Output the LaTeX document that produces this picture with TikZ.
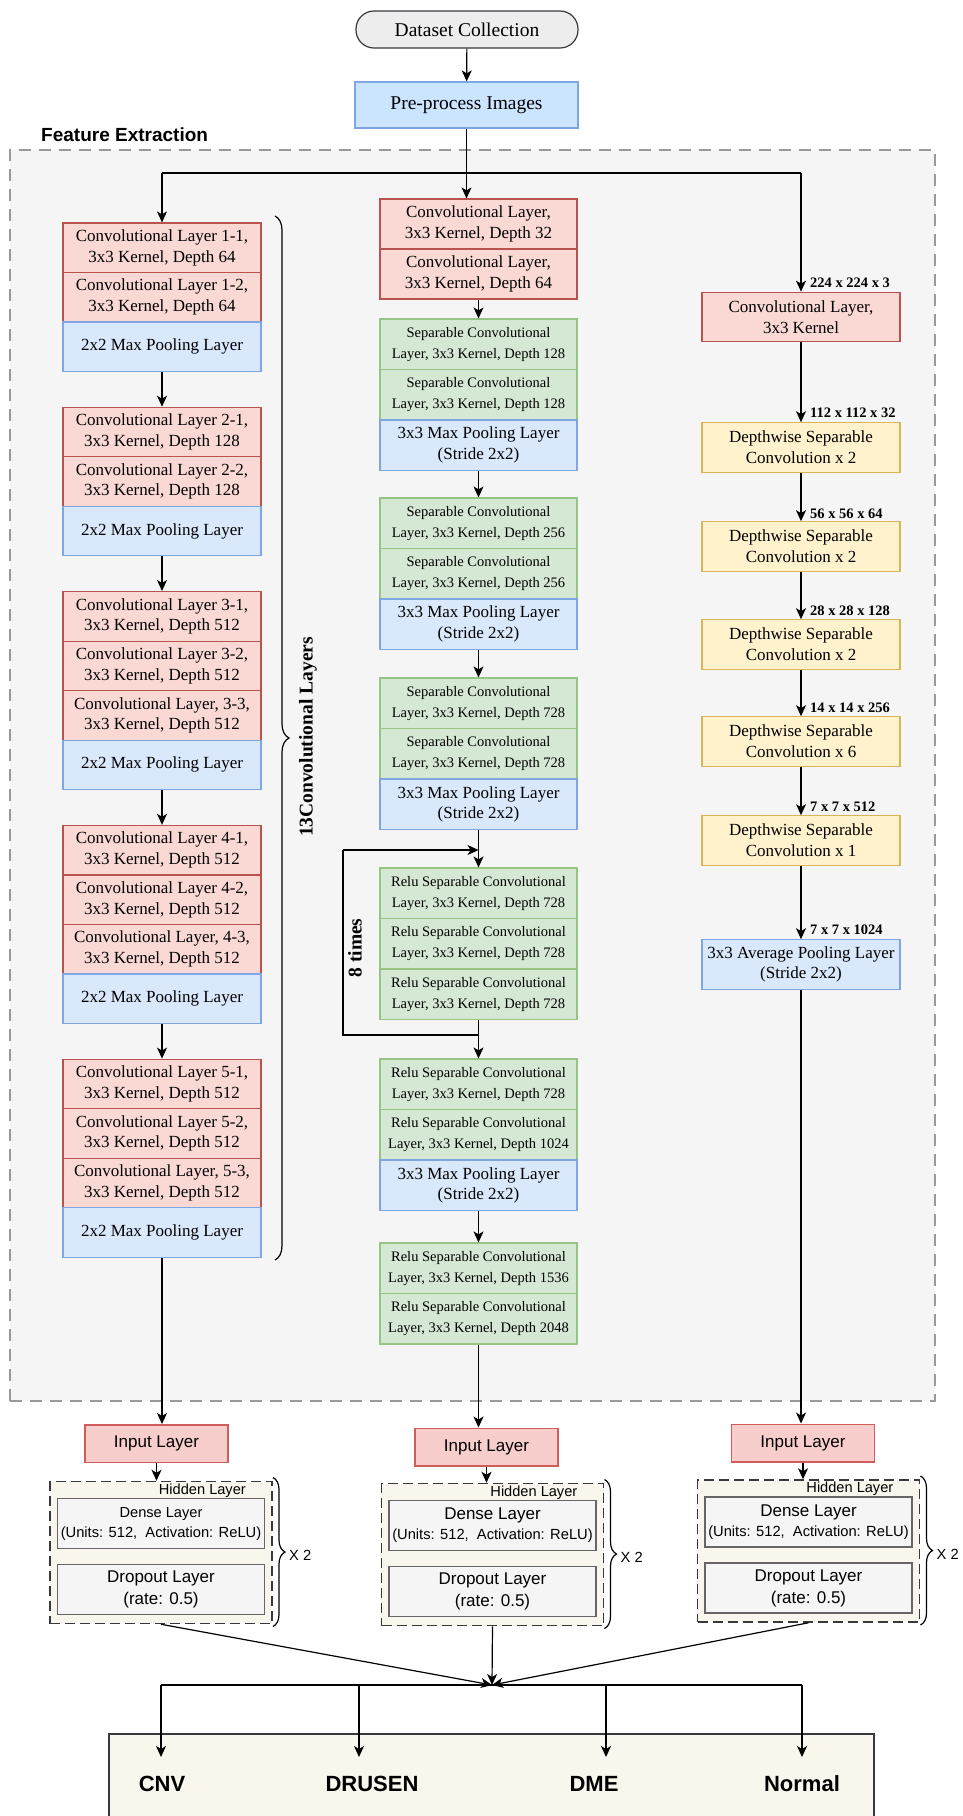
\documentclass[tikz,border=0pt]{standalone}
\usepackage{fontspec}
\setmainfont{Liberation Serif}
\setsansfont{Liberation Sans}
\usepackage{xcolor}
\usepackage{tikz}
\usetikzlibrary{positioning}
\usetikzlibrary{arrows.meta,shapes}
\usetikzlibrary{decorations.pathreplacing}
\usetikzlibrary{calc}

\definecolor{convfill}{HTML}{FAD9D5}
\definecolor{convdraw}{HTML}{B85450}
\definecolor{poolfill}{HTML}{DAE8FC}
\definecolor{pooldraw}{HTML}{7EA6E0}
\definecolor{sepfill}{HTML}{D5E8D4}
\definecolor{sepdraw}{HTML}{97C482}
\definecolor{dwfill}{HTML}{FFF2CC}
\definecolor{dwdraw}{HTML}{D6B656}
\definecolor{prefill}{HTML}{CCE5FF}
\definecolor{infill}{HTML}{F8CECC}
\definecolor{indraw}{HTML}{D15C5C}
\definecolor{creamfill}{HTML}{F9F7ED}
\definecolor{greyfill}{HTML}{F5F5F5}
\definecolor{darkline}{HTML}{36393D}

\tikzstyle{layer}=[rectangle,draw,line width=1.2pt,minimum width=198pt,minimum height=49.5pt,inner sep=0pt,align=center,font=\fontsize{17}{20.7}\selectfont]
\tikzstyle{convbox}=[layer,fill=convfill,draw=convdraw]
\tikzstyle{poolbox}=[layer,fill=poolfill,draw=pooldraw]
\tikzstyle{sepbox}=[layer,fill=sepfill,draw=sepdraw,minimum width=197pt,minimum height=50.5pt,font=\fontsize{14.5}{21}\selectfont]
\tikzstyle{dwbox}=[layer,fill=dwfill,draw=dwdraw]
\tikzstyle{edge}=[draw,line width=1.2pt,-{Stealth[length=11pt,width=10pt,inset=3pt]}]
\tikzstyle{wire}=[draw,line width=1.2pt]
\tikzstyle{dims}=[anchor=west,inner sep=0pt,font=\bfseries\fontsize{14.5}{16}\selectfont]
\tikzstyle{sidetext}=[rotate=90,inner sep=0pt,font=\bfseries\fontsize{19.5}{22}\selectfont]
\tikzset{febox/.style={rectangle,draw=black!40,fill=greyfill,line width=1.5pt,dash pattern=on 12pt off 8pt,minimum width=925pt,minimum height=1251pt,inner sep=0pt}}
\tikzset{inputbox/.style={rectangle,draw=indraw,fill=infill,line width=1.5pt,minimum width=143pt,minimum height=37.5pt,inner sep=0pt,font=\sffamily\fontsize{17}{20}\selectfont}}
\tikzset{hiddenbox/.style={rectangle,draw=darkline,fill=creamfill,line width=1.5pt,dash pattern=on 10pt off 5pt,minimum width=222pt,minimum height=142pt,inner sep=0pt}}
\tikzset{innerbox/.style={rectangle,draw=black!60,fill=greyfill,line width=1.8pt,minimum width=207pt,minimum height=50pt,inner sep=0pt,align=center}}
\tikzset{classlabel/.style={inner sep=0pt,font=\sffamily\bfseries\fontsize{22}{24}\selectfont}}

\begin{document}
\begin{tikzpicture}[x=1pt,y=-1pt]

  \useasboundingbox (0,0) rectangle (963,1816);
  \clip (0,0) rectangle (963,1816);

  \node[febox] (fe) at (472.5,775.5) {};
  \node[anchor=west,inner sep=0pt,font=\sffamily\bfseries\fontsize{19}{22}\selectfont] (fetitle) at (41,135) {Feature Extraction};

  \node[rectangle,rounded corners=18pt,draw=darkline,fill=black!7,line width=1.2pt,minimum width=222pt,minimum height=37pt,inner sep=0pt,font=\fontsize{19.5}{22}\selectfont] (ds) at (467,29.5) {Dataset Collection};
  \node[rectangle,draw=pooldraw,fill=prefill,line width=1.2pt,minimum width=223pt,minimum height=46pt,inner sep=0pt,font=\fontsize{19.5}{22}\selectfont] (pre) at (466.5,105) {Pre-process Images};

  % left column
  \foreach \y/\name/\txt in {247.75/c11/{Convolutional Layer 1-1,\\3x3 Kernel, Depth 64}, 297.25/c12/{Convolutional Layer 1-2,\\3x3 Kernel, Depth 64},
        432.05/c21/{Convolutional Layer 2-1,\\3x3 Kernel, Depth 128}, 481.55/c22/{Convolutional Layer 2-2,\\3x3 Kernel, Depth 128},
        616.35/c31/{Convolutional Layer 3-1,\\3x3 Kernel, Depth 512}, 665.85/c32/{Convolutional Layer 3-2,\\3x3 Kernel, Depth 512}, 715.35/c33/{Convolutional Layer, 3-3,\\3x3 Kernel, Depth 512},
        850.15/c41/{Convolutional Layer 4-1,\\3x3 Kernel, Depth 512}, 899.65/c42/{Convolutional Layer 4-2,\\3x3 Kernel, Depth 512}, 949.15/c43/{Convolutional Layer, 4-3,\\3x3 Kernel, Depth 512},
        1083.95/c51/{Convolutional Layer 5-1,\\3x3 Kernel, Depth 512}, 1133.45/c52/{Convolutional Layer 5-2,\\3x3 Kernel, Depth 512}, 1182.95/c53/{Convolutional Layer, 5-3,\\3x3 Kernel, Depth 512}}
          \node[convbox] (\name) at (162,\y) {\txt};

  \foreach \y/\name in {346.75/p1, 531.05/p2, 764.85/p3, 998.65/p4, 1232.45/p5}
          \node[poolbox] (\name) at (162,\y) {2x2 Max Pooling Layer};

  \foreach \source/\dest in {p1/c21, p2/c31, p3/c41, p4/c51}
         \path[edge] (\source) -- (\dest);

  \path[wire,decorate,decoration={brace,amplitude=14pt}] (275,216) -- (275,1260);
  \node[sidetext] (convcount) at (308,737) {13Convolutional Layers};

  % middle column
  \node[convbox,minimum width=197pt,minimum height=50pt] (m1) at (478.5,224) {Convolutional Layer,\\3x3 Kernel, Depth 32};
  \node[convbox,minimum width=197pt,minimum height=50pt] (m2) at (478.5,274) {Convolutional Layer,\\3x3 Kernel, Depth 64};

  \foreach \y/\name/\txt in {344.25/s1/{Separable Convolutional\\Layer, 3x3 Kernel, Depth 128}, 394.75/s2/{Separable Convolutional\\Layer, 3x3 Kernel, Depth 128},
        523.25/s3/{Separable Convolutional\\Layer, 3x3 Kernel, Depth 256}, 573.75/s4/{Separable Convolutional\\Layer, 3x3 Kernel, Depth 256},
        703.25/s5/{Separable Convolutional\\Layer, 3x3 Kernel, Depth 728}, 753.75/s6/{Separable Convolutional\\Layer, 3x3 Kernel, Depth 728},
        893.25/r1/{Relu Separable Convolutional\\Layer, 3x3 Kernel, Depth 728}, 943.75/r2/{Relu Separable Convolutional\\Layer, 3x3 Kernel, Depth 728}, 994.25/r3/{Relu Separable Convolutional\\Layer, 3x3 Kernel, Depth 728},
        1084.25/r4/{Relu Separable Convolutional\\Layer, 3x3 Kernel, Depth 728}, 1134.75/r5/{Relu Separable Convolutional\\Layer, 3x3 Kernel, Depth 1024},
        1268.25/r6/{Relu Separable Convolutional\\Layer, 3x3 Kernel, Depth 1536}, 1318.75/r7/{Relu Separable Convolutional\\Layer, 3x3 Kernel, Depth 2048}}
          \node[sepbox] (\name) at (478.5,\y) {\txt};

  \foreach \y/\name in {445.25/mp1, 624.25/mp2, 804.25/mp3, 1185.25/mp4}
          \node[poolbox,minimum width=197pt,minimum height=50.5pt] (\name) at (478.5,\y) {3x3 Max Pooling Layer\\(Stride 2x2)};

  \foreach \source/\dest in {m2/s1, mp1/s3, mp2/s5, mp3/r1, r3/r4, mp4/r6}
         \path[edge] (\source) -- (\dest);

  \coordinate (lpin) at (478.5,850);
  \coordinate (lpout) at (478.5,1035);
  \coordinate (lpa) at (343,1035);
  \coordinate (lpb) at (343,850);
  \path[wire] (lpout) -- (lpa) -- (lpb);
  \path[edge] (lpb) -- (lpin);
  \node[sidetext] (loopcount) at (355,948) {8 times};

  % right column
  \node[convbox] (rc) at (801,317) {Convolutional Layer,\\3x3 Kernel};
  \foreach \y/\name/\n in {447.5/d1/2, 546.5/d2/2, 644.5/d3/2, 741.5/d4/6, 840.5/d5/1}
          \node[dwbox] (\name) at (801,\y) {Depthwise Separable\\Convolution x \n};
  \node[poolbox] (ap) at (801,964.5) {3x3 Average Pooling Layer\\(Stride 2x2)};

  \foreach \source/\dest in {rc/d1, d1/d2, d2/d3, d3/d4, d4/d5, d5/ap}
         \path[edge] (\source) -- (\dest);

  \foreach \y/\name/\txt in {283/dimA/224 x 224 x 3, 413/dimB/112 x 112 x 32, 514/dimC/56 x 56 x 64, 611/dimD/28 x 28 x 128,
        708/dimE/14 x 14 x 256, 807/dimF/7 x 7 x 512, 930/dimG/7 x 7 x 1024}
          \node[dims] (\name) at (810,\y) {\txt};

  \coordinate (busL) at (162,173);
  \coordinate (busR) at (801,173);
  \path[wire] (busL) -- (busR);
  \path[edge] (busL) -- (c11);
  \path[edge] (busR) -- (rc);
  \path[edge] (ds) -- (pre);
  \path[edge] (pre.south) -- (pre.south |- m1.north);

  % classifier heads
  \foreach \n/\ix/\iy/\hx/\hy/\fs in {A/156.5/1443.5/161/1552.5/14.6, B/486.5/1447/492.5/1554.5/17, C/803/1443/808.5/1551/17} {
    \node[inputbox] (in\n) at (\ix,\iy) {Input Layer};
    \node[hiddenbox] (hid\n) at (\hx,\hy) {};
    \node[anchor=east,inner sep=0pt,font=\sffamily\fontsize{14.6}{16}\selectfont] (hl\n) at (\hx+85,\hy-62) {Hidden Layer};
    \node[innerbox,font=\sffamily\fontsize{14.7}{20}\selectfont] (den\n) at (\hx,\hy-29) {{\fontsize{\fs}{20}\selectfont Dense Layer}\\(Units: 512,~ Activation: ReLU)};
    \node[innerbox,font=\sffamily\fontsize{17}{22}\selectfont] (drop\n) at (\hx,\hy+37) {Dropout Layer\\(rate: 0.5)};
    \path[wire,decorate,decoration={brace,amplitude=12pt}] (\hx+112,\hy-75) -- (\hx+112,\hy+74);
    \node[anchor=west,inner sep=0pt,font=\sffamily\fontsize{14.7}{16}\selectfont] (rep\n) at (\hx+128,\hy+3) {X 2};
    \path[edge] (in\n.south) -- (in\n.south |- hid\n.north);
  }

  \path[edge] (p5.south) -- (p5.south |- inA.north);
  \path[edge] (r7.south) -- (r7.south |- inB.north);
  \path[edge] (ap.south) -- (ap.south |- inC.north);

  \node[rectangle,draw=darkline,fill=creamfill,line width=1.2pt,minimum width=765pt,minimum height=102pt,inner sep=0pt] (outbox) at (491.5,1785) {};

  \coordinate (merge) at (492,1685);
  \foreach \n in {A,B,C}
         \path[edge] (hid\n.south) -- (merge);

  \coordinate (obL) at (161,1685);
  \coordinate (obR) at (802,1685);
  \path[wire] (obL) -- (obR);

  \foreach \x/\lx/\name/\txt in {161/162/cnv/CNV, 359/372/drusen/DRUSEN, 606/594/dme/DME, 802/802/normal/Normal} {
    \coordinate (top\name) at (\x,1685);
    \coordinate (tip\name) at (\x,1757);
    \node[classlabel] (\name) at (\lx,1784) {\txt};
    \path[edge] (top\name) -- (tip\name);
  }

\end{tikzpicture}
\end{document}
